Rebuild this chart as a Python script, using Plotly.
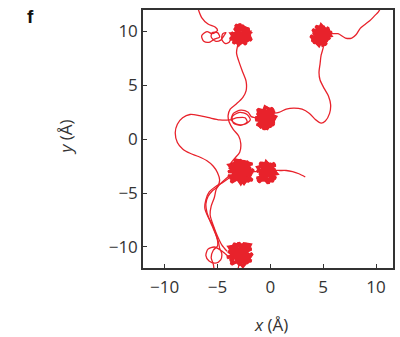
import plotly.graph_objects as go

# ---------------- data (Å) ----------------
tick_vals = [-10, -5, 0, 5, 10]

# path from top-left edge through two small loops to cluster A
seg_tl_x = [-6.9, -6.5, -5.9, -5.2, -5.0, -5.5, -6.0, -6.5, -6.3, -5.8, -5.3, -4.8, -5.0, -5.5, -5.6, -5.2, -4.7, -4.4, -4.2, -4.5, -4.6, -4.3, -3.9, -3.7]
seg_tl_y = [12.3, 11.3, 10.7, 10.4, 10.1, 9.8, 10.0, 9.6, 9.1, 9.0, 9.3, 9.5, 9.9, 9.9, 9.5, 9.1, 9.2, 9.6, 9.9, 9.8, 9.3, 8.9, 9.0, 9.4]

# cluster A (around -2.8, 9.6)
cl_a_x = [-3.6, -2.0, -3.3, -2.3, -3.7, -2.1, -2.9, -3.5, -1.9, -2.6, -3.8, -2.2, -3.1, -2.0, -3.4, -2.5, -3.6, -1.9, -2.8, -3.3, -2.1, -3.0, -3.7, -2.4, -2.7, -3.2, -1.8, -2.0, -2.3, -3.1]
cl_a_y = [9.4, 10.2, 10.6, 8.8, 9.9, 9.1, 10.7, 8.9, 9.9, 10.5, 9.3, 9.4, 8.7, 10.0, 10.3, 9.0, 9.7, 9.6, 10.4, 9.2, 10.3, 8.8, 9.8, 9.9, 9.3, 9.7, 9.2, 9.6, 9.3, 8.7]

# path from cluster A down to cluster D
seg_ad_x = [-3.1, -3.2, -2.9, -2.6, -2.3, -2.3, -2.6, -3.2, -3.8, -4.0, -3.9, -3.5, -3.0, -2.8, -2.9, -3.4, -3.8, -3.9]
seg_ad_y = [8.7, 8.0, 7.0, 6.2, 5.4, 4.5, 3.9, 3.3, 2.8, 2.2, 1.6, 0.9, 0.3, -0.4, -1.2, -1.8, -2.3, -2.7]

# cluster D (around -2.8, -3.0)
cl_d_x = [-3.9, -1.7, -3.4, -2.0, -4.0, -1.8, -2.9, -3.7, -1.6, -2.5, -3.9, -2.1, -3.2, -1.7, -3.6, -2.3, -4.0, -1.9, -2.8, -3.4, -2.0, -3.0, -3.8, -2.4, -2.6, -1.6]
cl_d_y = [-2.7, -2.3, -1.9, -3.9, -3.4, -3.3, -1.9, -4.0, -2.8, -4.1, -2.4, -2.1, -3.6, -3.8, -2.2, -3.1, -3.0, -2.6, -4.1, -3.2, -3.5, -2.5, -3.7, -2.0, -3.0, -3.0]

# cluster E (around -0.4, -3.1)
cl_e_x = [-1.3, 0.5, -1.0, 0.3, -1.3, 0.6, -0.4, -1.1, 0.4, -0.2, -1.2, 0.1, -0.8, 0.5, -0.6, -1.0, 0.2, -0.3, -1.2, 0.4, -0.5, -0.9, 0.0, 0.5]
cl_e_y = [-3.0, -2.4, -2.2, -3.9, -3.6, -3.2, -2.1, -4.0, -2.7, -4.1, -2.6, -2.3, -3.8, -3.6, -2.4, -3.3, -2.9, -3.4, -3.9, -2.2, -2.8, -3.6, -3.1, -2.9]

# free tail right of cluster E
tail_x = [0.9, 1.5, 2.1, 2.7, 3.3]
tail_y = [-2.9, -2.9, -3.0, -3.2, -3.5]

# path from top-right edge to cluster C
seg_tr_x = [10.5, 10.2, 9.9, 9.4, 9.0, 8.5, 8.1, 7.7, 7.1, 6.4, 5.9]
seg_tr_y = [12.3, 11.8, 11.5, 11.0, 10.7, 10.3, 9.7, 9.4, 9.4, 9.8, 9.8]

# cluster C (around 4.8, 9.6)
cl_c_x = [4.0, 5.6, 4.3, 5.3, 3.9, 5.7, 4.8, 4.1, 5.5, 4.6, 3.8, 5.4, 4.4, 5.8, 4.2, 5.0, 5.6, 4.0, 4.9, 5.3, 4.3, 5.1, 4.5, 5.5, 4.7, 5.0]
cl_c_y = [9.8, 10.1, 10.5, 8.8, 9.2, 9.6, 10.6, 8.9, 10.4, 8.7, 9.6, 9.1, 10.3, 9.9, 9.0, 10.5, 9.3, 10.2, 8.8, 10.0, 9.4, 9.1, 10.0, 9.7, 9.5, 8.6]

# path from cluster C down and round to cluster B
seg_cb_x = [5.0, 4.8, 4.7, 4.6, 4.7, 5.1, 5.5, 5.7, 5.6, 5.2, 4.8, 4.3, 3.7, 3.0, 2.2, 1.5, 0.8]
seg_cb_y = [8.5, 7.8, 7.0, 6.2, 5.5, 4.7, 4.0, 3.2, 2.4, 1.7, 1.5, 1.8, 2.4, 2.8, 2.9, 2.8, 2.5]

# cluster B (around -0.5, 2.0)
cl_b_x = [-1.3, 0.3, -1.0, 0.4, -1.4, 0.2, -0.6, -1.2, 0.5, -0.3, -1.3, 0.1, -0.9, 0.4, -0.5, -1.1, 0.2, -0.7, -1.4, 0.3, -0.2, -1.0, 0.0, -0.6, -1.4]
cl_b_y = [2.3, 2.8, 1.1, 1.6, 1.8, 2.9, 0.9, 2.8, 2.1, 1.0, 1.4, 1.2, 2.6, 2.5, 3.0, 1.2, 1.9, 2.2, 2.0, 1.3, 2.7, 1.7, 2.3, 1.6, 2.0]

# double loop left of B, big left loop, down the strand, loop at the bottom
seg_bf_x = [-1.8, -2.1, -2.8, -3.5, -3.7, -3.2, -2.4, -1.9, -2.2, -2.9, -3.6, -3.5, -2.8, -2.2, -2.4, -3.1, -3.9, -4.8, -5.8, -6.7, -7.6, -8.3, -8.8, -9.0, -8.8, -8.3, -7.6, -6.8, -6.0, -5.4, -5.0, -4.8, -5.0, -5.5, -5.9, -6.1, -6.0, -5.7, -5.4, -5.1, -4.9, -4.8, -4.6, -4.7, -5.2, -5.8, -6.1, -5.9, -5.3, -4.7, -4.3]
seg_bf_y = [2.1, 2.5, 2.7, 2.4, 1.8, 1.4, 1.4, 1.8, 2.3, 2.5, 2.1, 1.5, 1.3, 1.6, 2.0, 2.0, 1.8, 1.8, 2.0, 2.2, 2.3, 2.0, 1.4, 0.6, -0.3, -0.9, -1.3, -1.6, -2.0, -2.5, -3.1, -3.8, -4.4, -4.8, -5.3, -6.0, -6.8, -7.6, -8.3, -9.0, -9.6, -10.1, -10.6, -11.2, -11.5, -11.3, -10.8, -10.2, -10.0, -10.3, -10.6]

# cluster F (around -2.9, -10.7)
cl_f_x = [-3.9, -1.8, -3.5, -2.1, -4.0, -1.9, -3.0, -3.7, -1.7, -2.6, -3.9, -2.2, -3.3, -1.8, -3.6, -2.4, -4.1, -2.0, -2.9, -3.4, -2.3, -3.1, -3.8, -2.5, -1.9, -2.2]
cl_f_y = [-10.9, -10.2, -9.7, -11.5, -10.4, -11.0, -9.6, -11.6, -10.6, -11.8, -10.0, -9.8, -11.4, -11.3, -10.1, -10.5, -11.0, -10.0, -11.7, -10.8, -11.1, -10.3, -11.3, -9.7, -9.8, -10.4]

# exit through the bottom edge from cluster F
exit_f_x = [-3.0, -3.1]
exit_f_y = [-11.8, -12.4]

# strand from cluster D down to the bottom edge
seg_dd_x = [-3.9, -4.5, -5.2, -5.8, -6.1, -6.2, -5.9, -5.5, -5.2, -5.0, -5.0, -5.4, -5.6, -5.4, -5.3]
seg_dd_y = [-3.6, -4.0, -4.4, -4.9, -5.6, -6.4, -7.2, -7.9, -8.7, -9.4, -9.9, -10.3, -11.0, -11.6, -12.4]

# strand from cluster F back up to cluster D
seg_fd_x = [-4.1, -4.6, -5.0, -5.4, -5.7, -5.6, -5.3, -5.1, -4.6, -3.9]
seg_fd_y = [-10.4, -9.8, -9.0, -8.0, -7.0, -6.2, -5.4, -4.6, -4.0, -3.4]

# ---------------- figure ----------------
RED = "#e8222b"
INK = "#333333"
FONT = "Open Sans"

paths = [
    (seg_tl_x + cl_a_x + seg_ad_x + cl_d_x + cl_e_x + tail_x,
     seg_tl_y + cl_a_y + seg_ad_y + cl_d_y + cl_e_y + tail_y),
    (seg_tr_x + cl_c_x + seg_cb_x + cl_b_x + seg_bf_x + cl_f_x + exit_f_x,
     seg_tr_y + cl_c_y + seg_cb_y + cl_b_y + seg_bf_y + cl_f_y + exit_f_y),
    (seg_dd_x, seg_dd_y),
    (seg_fd_x, seg_fd_y),
]
clusters = [(cl_a_x, cl_a_y), (cl_b_x, cl_b_y), (cl_c_x, cl_c_y),
            (cl_d_x, cl_d_y), (cl_e_x, cl_e_y), (cl_f_x, cl_f_y)]

fig = go.Figure()
for px, py in paths:
    fig.add_trace(go.Scatter(x=px, y=py, mode="lines",
                             line=dict(color=RED, width=1.3, shape="spline", smoothing=0.8),
                             hoverinfo="skip"))
# dense scribble of each cluster (drawn heavier so it reads as a solid blob)
for cx, cy in clusters:
    fig.add_trace(go.Scatter(x=cx, y=cy, mode="lines",
                             line=dict(color=RED, width=3.2),
                             hoverinfo="skip"))

axis_common = dict(
    tickvals=tick_vals, ticks="inside", ticklen=4, tickwidth=1.2, tickcolor=INK,
    showline=True, mirror=True, linecolor=INK, linewidth=1.5,
    showgrid=False, zeroline=False,
    tickfont=dict(family=FONT, size=17, color=INK),
)

fig.update_layout(
    width=400, height=337,
    margin=dict(l=143, r=5, t=10, b=69),
    plot_bgcolor="white", paper_bgcolor="white",
    showlegend=False,
    xaxis=dict(range=[-12.05, 11.6], ticklabelstandoff=3, **axis_common),
    yaxis=dict(range=[-11.95, 12.0], **axis_common),
    annotations=[
        dict(text="<i>x</i> (Å)", xref="paper", yref="paper", x=0.512, y=-0.272,
             showarrow=False, font=dict(family=FONT, size=17, color=INK),
             xanchor="center", yanchor="bottom"),
        dict(text="<i>y</i> (Å)", xref="paper", yref="paper", x=-0.31, y=0.508,
             showarrow=False, textangle=-90, font=dict(family=FONT, size=17, color=INK),
             xanchor="center", yanchor="middle"),
        dict(text="<b>f</b>", xref="paper", yref="paper", x=-0.452, y=0.975,
             showarrow=False, font=dict(family="Liberation Sans", size=19, color="#111111"),
             xanchor="center", yanchor="middle"),
    ],
)

fig.write_html("out.html")
